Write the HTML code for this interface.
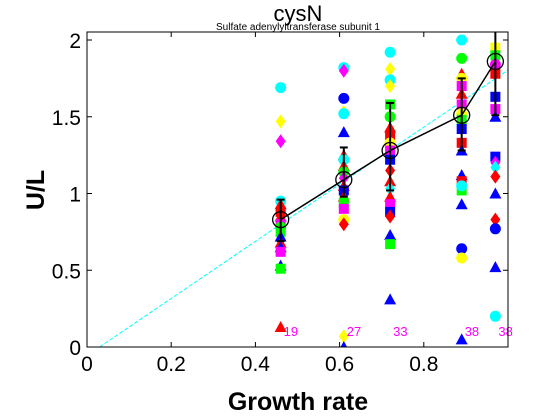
<!DOCTYPE html>
<html><head><meta charset="utf-8"><style>
body{margin:0;background:#fff;width:560px;height:420px;overflow:hidden}
svg{display:block;font-family:"Liberation Sans",sans-serif}
</style></head><body>
<svg id="c" width="560" height="420"></svg>
<script>
const growthRates=[0.46,0.61,0.72,0.89,0.97];
const means=[0.83,1.09,1.28,1.51,1.86];
const errLow=[0.69,0.98,1.02,1.28,1.51];
const errHigh=[0.96,1.30,1.59,1.75,2.10];
const counts=["19","27","33","38","38"];
const xTicks=[0,0.2,0.4,0.6,0.8];
const yTicks=[0,0.5,1,1.5,2];
const fitSlope=1.86, fitStart=0.03;
// points: [column index, value, marker, color]
const points=[
[0,1.69,'o','#0ff'],[0,1.47,'d','#ff0'],[0,1.34,'d','#f0f'],[0,0.95,'o','#0ff'],[0,0.93,'^','#f00'],[0,0.88,'s','#f00'],[0,0.85,'^','#f00'],[0,0.80,'s','#f0f'],[0,0.78,'o','#0f0'],[0,0.75,'s','#0f0'],[0,0.72,'^','#00f'],[0,0.68,'^','#f00'],[0,0.65,'^','#00f'],[0,0.62,'s','#f0f'],[0,0.53,'^','#00f'],[0,0.51,'s','#0f0'],[0,0.13,'^','#f00'],
[1,1.82,'o','#0ff'],[1,1.80,'d','#f0f'],[1,1.62,'o','#00f'],[1,1.53,'d','#ff0'],[1,1.52,'o','#0ff'],[1,1.40,'^','#00f'],[1,1.25,'^','#f00'],[1,1.22,'o','#0ff'],[1,1.18,'^','#f00'],[1,1.14,'o','#0f0'],[1,1.10,'d','#f0f'],[1,1.05,'^','#f00'],[1,1.02,'s','#00f'],[1,0.98,'^','#f00'],[1,0.94,'s','#0f0'],[1,0.90,'s','#f0f'],[1,0.83,'o','#ff0'],[1,0.80,'d','#f00'],[1,0.07,'d','#ff0'],[1,0.0,'^','#00f'],
[2,1.92,'o','#0ff'],[2,1.81,'d','#ff0'],[2,1.74,'o','#0ff'],[2,1.70,'d','#ff0'],[2,1.58,'s','#0f0'],[2,1.50,'o','#0f0'],[2,1.43,'^','#f00'],[2,1.38,'s','#f00'],[2,1.33,'o','#ff0'],[2,1.28,'s','#f0f'],[2,1.22,'s','#00f'],[2,1.15,'d','#f00'],[2,1.08,'^','#f00'],[2,1.03,'d','#0ff'],[2,0.98,'^','#f00'],[2,0.93,'s','#f0f'],[2,0.88,'s','#00f'],[2,0.85,'d','#f00'],[2,0.73,'^','#00f'],[2,0.67,'s','#0f0'],[2,0.31,'^','#00f'],
[3,2.00,'o','#0ff'],[3,1.88,'o','#0f0'],[3,1.78,'^','#f00'],[3,1.75,'o','#ff0'],[3,1.70,'s','#f0f'],[3,1.65,'^','#f00'],[3,1.58,'s','#f0f'],[3,1.52,'o','#ff0'],[3,1.48,'s','#0f0'],[3,1.42,'s','#00f'],[3,1.33,'s','#f00'],[3,1.28,'^','#00f'],[3,1.12,'^','#00f'],[3,1.08,'s','#f00'],[3,1.02,'s','#0f0'],[3,1.05,'o','#0ff'],[3,0.93,'^','#00f'],[3,0.64,'o','#00f'],[3,0.58,'o','#ff0'],[3,0.05,'^','#00f'],
[4,1.95,'s','#ff0'],[4,1.90,'s','#0f0'],[4,1.84,'o','#f0f'],[4,1.78,'s','#f00'],[4,1.63,'s','#00f'],[4,1.55,'s','#f0f'],[4,1.50,'^','#00f'],[4,1.24,'s','#00f'],[4,1.20,'d','#f0f'],[4,1.17,'d','#0ff'],[4,1.11,'d','#f00'],[4,1.00,'^','#00f'],[4,0.83,'d','#f00'],[4,0.77,'o','#00f'],[4,0.52,'^','#00f'],[4,0.20,'o','#0ff']
];
const L=87,R=508,T=32,B=347;
const X=v=>L+v*(R-L);
const Y=v=>B-v*153.5;
const NS='http://www.w3.org/2000/svg';
const svg=document.getElementById('c');
function mk(tag,a,parent){const e=document.createElementNS(NS,tag);for(const k in a)e.setAttribute(k,a[k]);(parent||svg).appendChild(e);return e;}
const clip=mk('clipPath',{id:'pc'});mk('rect',{x:L,y:T,width:R-L,height:B-T},clip);
const g=mk('g',{'clip-path':'url(#pc)'});


const fl=mk('line',{x1:X(fitStart),y1:Y(0),x2:X(1),y2:Y(fitSlope*(1-fitStart)),stroke:'#0ff','stroke-width':1,'stroke-dasharray':'4,2'},g);


points.forEach(p=>{
 const cx=X(growthRates[p[0]]),cy=Y(p[1]),c=p[3];let e;
 if(p[2]==='o')e=mk('circle',{cx,cy,r:5.5,fill:c},g);
 else if(p[2]==='s')e=mk('rect',{x:cx-5,y:cy-5,width:10,height:10,fill:c},g);
 else if(p[2]==='d')e=mk('polygon',{points:`${cx},${cy-7} ${cx+5},${cy} ${cx},${cy+7} ${cx-5},${cy}`,fill:c},g);
 else e=mk('polygon',{points:`${cx},${cy-6} ${cx+6},${cy+5} ${cx-6},${cy+5}`,fill:c},g);
 
 
});
const ml=mk('polyline',{points:growthRates.map((x,i)=>X(x)+','+Y(means[i])).join(' '),fill:'none',stroke:'#000','stroke-width':1.5},g);


growthRates.forEach((x,i)=>{
 const cx=X(x);
 const eb=mk('g',{stroke:'#000','stroke-width':2},g);
 
 
 mk('line',{x1:cx,x2:cx,y1:Y(errLow[i]),y2:Y(errHigh[i])},eb);
 mk('line',{x1:cx-4,x2:cx+4,y1:Y(errLow[i]),y2:Y(errLow[i])},eb);
 mk('line',{x1:cx-4,x2:cx+4,y1:Y(errHigh[i]),y2:Y(errHigh[i])},eb);
 const mc=mk('circle',{cx,cy:Y(means[i]),r:8,fill:'none',stroke:'#000','stroke-width':1.3},g);
 
 
 const t=mk('text',{x:cx+3,y:336,fill:'#f0f','font-size':13});t.textContent=counts[i];
 
 
});
const ax=mk('rect',{x:L,y:T,width:R-L,height:B-T,fill:'none',stroke:'#000','stroke-width':1});


xTicks.forEach(v=>{
 mk('line',{x1:X(v),x2:X(v),y1:B,y2:B-5,stroke:'#000'});mk('line',{x1:X(v),x2:X(v),y1:T,y2:T+5,stroke:'#000'});
 const t=mk('text',{x:X(v),y:371,'text-anchor':'middle','font-size':21});t.textContent=v===0?'0':v.toString();
 
 
});
yTicks.forEach(v=>{
 mk('line',{x1:L,x2:L+5,y1:Y(v),y2:Y(v),stroke:'#000'});mk('line',{x1:R,x2:R-5,y1:Y(v),y2:Y(v),stroke:'#000'});
 const t=mk('text',{x:L-6,y:Y(v)+8,'text-anchor':'end','font-size':21});t.textContent=v.toString();
 
 
});
</script>
<svg style="position:absolute;left:0;top:0" width="560" height="420">
<text x="298" y="21" text-anchor="middle" font-size="22" font-family="Liberation Sans,sans-serif">cysN</text>
<text x="298" y="30" text-anchor="middle" font-size="10" font-family="Liberation Sans,sans-serif">Sulfate adenylyltransferase subunit 1</text>
<text x="298" y="410" text-anchor="middle" font-size="25" font-weight="bold" font-family="Liberation Sans,sans-serif">Growth rate</text>
<text x="0" y="0" transform="translate(44,190) rotate(-90)" text-anchor="middle" font-size="25" font-weight="bold" font-family="Liberation Sans,sans-serif">U/L</text>
</svg>
</body></html>
